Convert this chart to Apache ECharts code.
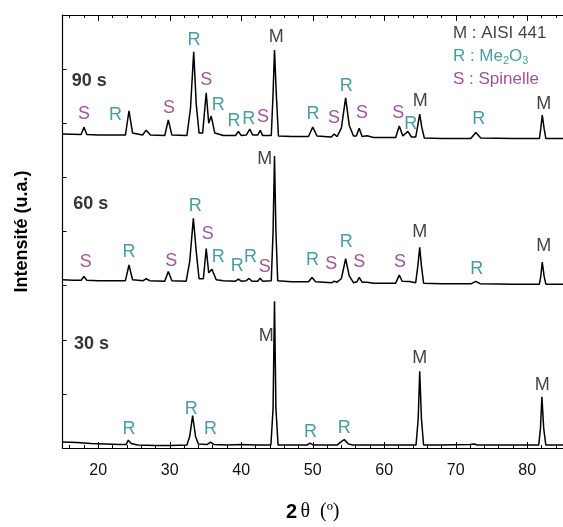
<!DOCTYPE html>
<html>
<head>
<meta charset="utf-8">
<script src="https://cdn.jsdelivr.net/npm/echarts@6/dist/echarts.min.js"></script>
<style>html,body{margin:0;padding:0;background:#fff}#c{width:563px;height:527px}</style>
</head>
<body>
<div id="c"></div>
<script>
// 2θ (°) vs intensity (arbitrary units, traces offset vertically)
const xMajorTicks = [20, 30, 40, 50, 60, 70, 80];
const xMinorTicks = [16, 18, 22, 24, 26, 28, 32, 34, 36, 38, 42, 44, 46, 48, 52, 54, 56, 58, 62, 64, 66, 68, 72, 74, 76, 78, 82, 84];

const trace30s = [
  [15, 6], [17, 5.5], [19, 4.5], [21, 4], [23, 3.5], [23.9, 3.5], [24.2, 8], [24.6, 4.5], [25.5, 3],
  [28, 2.5], [30, 2.5], [32.4, 3], [32.8, 12], [33.2, 33], [33.6, 12], [34.0, 4], [35.2, 3.5], [35.7, 6],
  [36.2, 3.5], [38, 3], [40, 3.5], [42, 3], [44.15, 3], [44.45, 40], [44.65, 149], [44.85, 40], [45.15, 3],
  [47, 3], [49.2, 3], [49.6, 5], [50.1, 3], [53.4, 3], [53.9, 6], [54.4, 8.5], [55.0, 4], [55.6, 3],
  [58, 3], [60, 3], [62, 3], [64.45, 3], [64.75, 30], [64.96, 78], [65.2, 30], [65.5, 3], [68, 3],
  [72, 3.5], [72.6, 4], [73, 3], [78, 3], [81.6, 3], [81.85, 20], [82.05, 52], [82.3, 20], [82.6, 3], [85, 3]
];

const trace60s = [
  [15, 171], [16.5, 170.5], [17.6, 170.5], [18.0, 174.3], [18.4, 170.5], [20, 170], [22, 170], [23.8, 170],
  [24.3, 186], [24.8, 171], [26.3, 170], [26.7, 172], [27.2, 170], [29.3, 169.5], [29.8, 179.3], [30.3, 170],
  [32.3, 169.5], [32.8, 190], [33.3, 233.3], [33.7, 200], [34.1, 172], [34.7, 172], [35.1, 202.7], [35.45, 178],
  [35.9, 181.7], [36.5, 171], [37.5, 170], [39.2, 169.5], [39.6, 171.5], [40.0, 169.5], [40.7, 170], [41.1, 172.3],
  [41.5, 169.5], [42.3, 169.5], [42.65, 172.5], [43.0, 169.5], [44.2, 170], [44.45, 220], [44.65, 296.7],
  [44.85, 220], [45.1, 170], [47, 169], [49.4, 169], [49.9, 173.3], [50.4, 169], [52.7, 168], [53.0, 169.5],
  [53.4, 168.5], [54.0, 172], [54.6, 192.3], [55.1, 175], [55.7, 168], [56.2, 169], [56.5, 173.3], [56.9, 168.5],
  [57.6, 168.5], [58.5, 167.5], [61.6, 167.5], [62.1, 175.7], [62.5, 169.5], [63.5, 169.3], [64.4, 168],
  [64.7, 185], [64.96, 204], [65.2, 185], [65.5, 167.5], [68, 167], [72.2, 167], [72.8, 169.3], [73.4, 167],
  [78, 166.5], [81.7, 166.5], [81.9, 175], [82.1, 189], [82.35, 175], [82.6, 166.5], [85, 166.5]
];

const trace90s = [
  [15, 319], [17.6, 318.5], [18.0, 326], [18.4, 318.5], [20, 318], [23.8, 318], [24.3, 342.7], [24.8, 320],
  [26.2, 318], [26.7, 323], [27.3, 318], [29.3, 317.5], [29.8, 333.3], [30.3, 318], [32.4, 317.5], [32.9, 345],
  [33.35, 402.7], [33.7, 350], [34.1, 320], [34.6, 320], [35.1, 361], [35.45, 330], [35.8, 337.3], [36.3, 320],
  [37.5, 317.5], [39.2, 317.5], [39.6, 321.7], [40.0, 317.5], [40.7, 318], [41.2, 324], [41.6, 318], [42.3, 318],
  [42.65, 322.7], [43.0, 317.5], [44.2, 317.5], [44.45, 360], [44.65, 404.3], [44.9, 360], [45.2, 317],
  [47, 316.5], [49.4, 316.5], [50.0, 326], [50.6, 317], [52.6, 316], [53.0, 319], [53.4, 316.5], [54.0, 325],
  [54.6, 355.7], [55.1, 328], [55.7, 317], [56.1, 317], [56.5, 325], [56.9, 316.5], [57.6, 317.3], [58.5, 315.5],
  [61.6, 315.5], [62.1, 327.3], [62.6, 317], [63.3, 321.7], [63.8, 316], [64.4, 316], [64.7, 328], [64.96, 339.3],
  [65.25, 326], [65.6, 315], [68, 314.5], [72.1, 314.5], [72.8, 320.7], [73.5, 315], [78, 314.5], [81.7, 314.5],
  [81.9, 325], [82.1, 338.3], [82.35, 325], [82.6, 314.5], [85, 314.5]
];

// phase annotations: [2θ, y, letter]
const labelsM = [
  [44.9, 417.7, 'M'], [65.05, 352.3, 'M'], [82.3, 349.3, 'M'],
  [43.3, 293.3, 'M'], [64.96, 219, 'M'], [82.3, 205, 'M'],
  [43.5, 114, 'M'], [64.96, 91, 'M'], [82.1, 64.3, 'M']
];
const labelsR = [
  [22.4, 338.3, 'R'], [33.4, 415, 'R'], [36.8, 349, 'R'], [39.0, 332.3, 'R'], [41.05, 334, 'R'],
  [50.05, 339, 'R'], [54.7, 367.7, 'R'], [63.7, 329, 'R'], [73.2, 334, 'R'],
  [24.3, 199, 'R'], [33.57, 246, 'R'], [36.8, 194.3, 'R'], [39.45, 185, 'R'], [41.3, 194.3, 'R'],
  [49.96, 190.7, 'R'], [54.7, 209, 'R'], [72.95, 182.3, 'R'],
  [24.3, 19.3, 'R'], [33.0, 40, 'R'], [35.7, 19.3, 'R'], [49.7, 16.7, 'R'], [54.4, 20, 'R']
];
const labelsS = [
  [18.0, 339, 'S'], [29.9, 345.7, 'S'], [35.1, 374, 'S'], [43.05, 336.7, 'S'],
  [52.96, 335, 'S'], [56.9, 340, 'S'], [61.97, 340, 'S'],
  [18.25, 189, 'S'], [30.2, 190, 'S'], [35.3, 217.7, 'S'], [43.3, 184, 'S'],
  [52.6, 186.7, 'S'], [56.5, 189, 'S'], [62.2, 189, 'S']
];
const traceNames = [[16.3, 373.3, '90 s'], [16.5, 248.3, '60 s'], [16.6, 105.7, '30 s']];
const legendLines = [[69.6, 421, 'M'], [69.6, 397.7, 'R'], [69.6, 374.3, 'S']];

const FONT = 'Arial, "Liberation Sans", sans-serif';
const COL_M = '#111111', COL_R = '#1c8489', COL_S = '#84297c';

const chart = echarts.init(document.getElementById('c'), null, {renderer: 'canvas'});

function letterSeries(data, color) {
  return {
    type: 'scatter', symbolSize: 0, silent: true, z: 5,
    data: data.map(d => ({value: [d[0], d[1]], name: d[2]})),
    label: {show: true, position: 'inside', formatter: '{b}', color: color,
      fontFamily: FONT, fontSize: 18}
  };
}
function lineSeries(data) {
  return {type: 'line', data: data, showSymbol: false, silent: true, smooth: false,
    lineStyle: {color: '#000', width: 1.5}, z: 3};
}

const axisCommon = {
  type: 'value', min: 15, max: 85, splitLine: {show: false},
  axisLine: {show: true, lineStyle: {color: '#000', width: 1.2}}
};

chart.setOption({
  animation: false,
  backgroundColor: '#fff',
  grid: {left: 62.5, top: 15, width: 505, height: 440, containLabel: false},
  xAxis: [
    Object.assign({}, axisCommon, {
      position: 'bottom',
      name: '{b|2} {t|θ  (º)}', nameLocation: 'middle', nameGap: 54,
      nameTextStyle: {rich: {
        b: {fontFamily: FONT, fontWeight: 'bold', fontSize: 20, color: '#000'},
        t: {fontFamily: '"Liberation Serif", "DejaVu Serif", serif', fontSize: 20, color: '#000'}
      }},
      axisTick: {show: true, inside: true, length: 6, customValues: xMajorTicks, lineStyle: {color: '#000'}},
      axisLabel: {show: true, customValues: xMajorTicks, margin: 15, fontFamily: FONT, fontSize: 16, color: '#111'}
    }),
    Object.assign({}, axisCommon, {
      position: 'bottom',
      axisTick: {show: true, inside: true, length: 3, customValues: xMinorTicks, lineStyle: {color: '#000'}},
      axisLabel: {show: false}
    }),
    Object.assign({}, axisCommon, {
      position: 'top',
      axisTick: {show: true, inside: true, length: 6, customValues: xMajorTicks, lineStyle: {color: '#000'}},
      axisLabel: {show: false}
    }),
    Object.assign({}, axisCommon, {
      position: 'top',
      axisTick: {show: true, inside: true, length: 3, customValues: xMinorTicks, lineStyle: {color: '#000'}},
      axisLabel: {show: false}
    })
  ],
  yAxis: {
    type: 'value', min: 0, max: 440, interval: 55,
    name: 'Intensité (u.a.)', nameLocation: 'middle', nameGap: 31,
    nameTextStyle: {fontFamily: FONT, fontWeight: 'bold', fontSize: 18, color: '#000'},
    axisLine: {show: true, lineStyle: {color: '#000', width: 1.2}},
    axisTick: {show: true, inside: true, length: 4, lineStyle: {color: '#000'}},
    axisLabel: {show: false},
    splitLine: {show: false}
  },
  series: [
    lineSeries(trace30s),
    lineSeries(trace60s),
    lineSeries(trace90s),
    letterSeries(labelsM, COL_M),
    letterSeries(labelsR, COL_R),
    letterSeries(labelsS, COL_S),
    {
      type: 'scatter', symbolSize: 0, silent: true, z: 5,
      data: traceNames.map(d => ({value: [d[0], d[1]], name: d[2]})),
      label: {show: true, position: 'inside', align: 'left', formatter: '{b}', color: '#000',
        fontFamily: FONT, fontWeight: 'bold', fontSize: 18}
    },
    {
      type: 'scatter', symbolSize: 0, silent: true, z: 5,
      data: legendLines.map(d => ({value: [d[0], d[1]], name: d[2]})),
      label: {show: true, position: 'inside', align: 'left',
        formatter: function (p) {
          if (p.name === 'M') return '{m|M : AISI 441}';
          if (p.name === 'R') return '{r|R : Me}{rs|2}{r|O}{rs|3}';
          return '{s|S : Spinelle}';
        },
        rich: {
          m: {color: COL_M, fontFamily: FONT, fontSize: 17, lineHeight: 20},
          r: {color: COL_R, fontFamily: FONT, fontSize: 17, lineHeight: 20},
          rs: {color: COL_R, fontFamily: FONT, fontSize: 11, lineHeight: 20, verticalAlign: 'bottom', padding: [8, 0, 0, 0]},
          s: {color: COL_S, fontFamily: FONT, fontSize: 17, lineHeight: 20}
        }
      }
    }
  ]
});
</script>
</body>
</html>
